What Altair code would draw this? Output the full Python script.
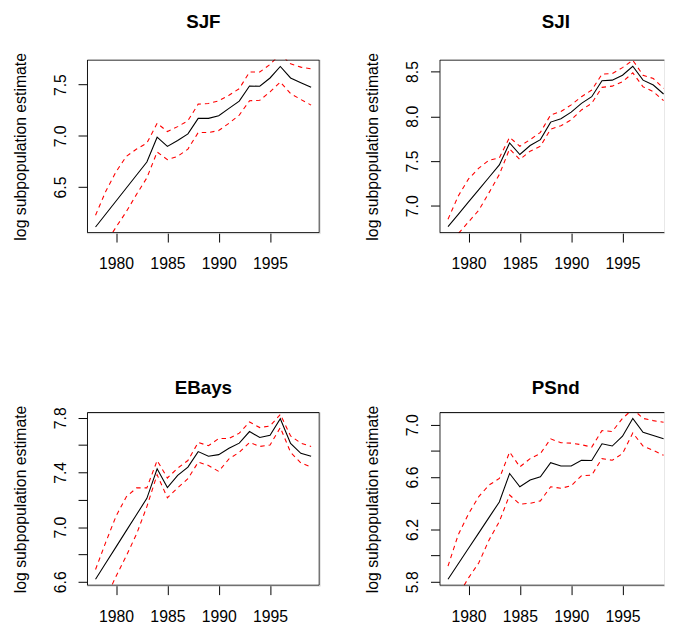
import altair as alt
import pandas as pd

years = [1978, 1979, 1980, 1981, 1982, 1983, 1984, 1985, 1986, 1987, 1988,
         1989, 1990, 1991, 1992, 1993, 1994, 1995, 1996, 1997, 1998, 1999]

panel_names = ["SJF", "SJI", "EBays", "PSnd"]

sjf_est = [6.110, 6.237, 6.364, 6.491, 6.618, 6.745, 6.987, 6.897, 6.955, 7.019, 7.171,
           7.171, 7.197, 7.268, 7.339, 7.487, 7.484, 7.565, 7.677, 7.565, 7.519, 7.474]
sjf_hi = [6.225, 6.460, 6.650, 6.800, 6.871, 6.929, 7.123, 7.042, 7.090, 7.148, 7.310,
          7.316, 7.342, 7.397, 7.461, 7.623, 7.623, 7.697, 7.800, 7.703, 7.671, 7.655]
sjf_lo = [5.780, 5.950, 6.110, 6.260, 6.430, 6.590, 6.842, 6.768, 6.800, 6.871, 7.032,
          7.032, 7.052, 7.123, 7.203, 7.342, 7.348, 7.429, 7.526, 7.413, 7.355, 7.300]

sji_est = [6.767, 6.905, 7.043, 7.181, 7.319, 7.457, 7.702, 7.573, 7.673, 7.739, 7.935,
           7.972, 8.046, 8.145, 8.219, 8.397, 8.404, 8.459, 8.559, 8.404, 8.349, 8.249]
sji_hi = [6.850, 7.110, 7.300, 7.420, 7.510, 7.535, 7.765, 7.665, 7.739, 7.820, 8.016,
          8.053, 8.127, 8.219, 8.293, 8.470, 8.478, 8.544, 8.626, 8.459, 8.422, 8.312]
sji_lo = [6.550, 6.690, 6.820, 6.950, 7.147, 7.350, 7.636, 7.517, 7.610, 7.665, 7.857,
          7.894, 7.961, 8.071, 8.145, 8.323, 8.337, 8.385, 8.485, 8.330, 8.275, 8.175]

ebays_est = [6.619, 6.737, 6.855, 6.974, 7.092, 7.210, 7.427, 7.289, 7.378, 7.439, 7.552,
             7.518, 7.530, 7.576, 7.614, 7.699, 7.655, 7.672, 7.793, 7.612, 7.540, 7.518]
ebays_hi = [6.690, 6.890, 7.080, 7.222, 7.287, 7.287, 7.487, 7.359, 7.431, 7.487, 7.619,
            7.595, 7.648, 7.648, 7.687, 7.769, 7.728, 7.740, 7.824, 7.667, 7.614, 7.590]
ebays_lo = [6.300, 6.480, 6.640, 6.790, 6.950, 7.150, 7.383, 7.214, 7.287, 7.354, 7.475,
            7.451, 7.407, 7.499, 7.547, 7.619, 7.590, 7.600, 7.728, 7.547, 7.470, 7.439]

psnd_est = [5.820, 5.938, 6.056, 6.174, 6.292, 6.410, 6.627, 6.526, 6.577, 6.602, 6.710,
            6.685, 6.685, 6.728, 6.726, 6.854, 6.837, 6.912, 7.048, 6.942, 6.917, 6.892]
psnd_hi = [5.920, 6.160, 6.320, 6.451, 6.539, 6.589, 6.791, 6.678, 6.741, 6.779, 6.892,
           6.862, 6.859, 6.847, 6.829, 6.955, 6.948, 7.048, 7.119, 7.048, 7.031, 7.018]
psnd_lo = [5.550, 5.700, 5.830, 5.945, 6.120, 6.260, 6.463, 6.393, 6.400, 6.418, 6.526,
           6.514, 6.534, 6.610, 6.615, 6.741, 6.728, 6.779, 6.937, 6.837, 6.804, 6.766]

y_domains = [[6.05, 7.745], [6.694, 8.634], [6.571, 7.841], [5.770, 7.096]]
y_ticks = [[6.5, 7.0, 7.5], [7.0, 7.5, 8.0, 8.5],
           [6.6, 6.8, 7.0, 7.2, 7.4, 7.6, 7.8], [5.8, 6.0, 6.2, 6.4, 6.6, 6.8, 7.0]]
y_labels = [["6.5", "7.0", "7.5"], ["7.0", "7.5", "8.0", "8.5"],
            ["6.6", "7.0", "7.4", "7.8"], ["5.8", "6.2", "6.6", "7.0"]]
x_ticks = [1980, 1985, 1990, 1995]
y_title = "log subpopulation estimate"

FONT = "Liberation Sans"
W_FULL, W_RIGHT, H = 236, 228, 176
PX_PER_YEAR = 236 / 22.68
X0 = 1977.16
TITLE_Y = [-31.8, -31.8, -18.5, -18.5]


def panel(name, est, hi, lo, ydom, yt, yl, width, title_y):
    n = len(years)
    df = pd.DataFrame({
        "year": years * 3,
        "value": est + hi + lo,
        "series": ["est"] * n + ["upper"] * n + ["lower"] * n,
    })
    xdom = [X0, X0 + width / PX_PER_YEAR]
    label_list = ",".join("'" + s + "'" for s in yl)
    label_expr = ("indexof([" + label_list + "], format(datum.value, '.1f')) >= 0 ? "
                  "format(datum.value, '.1f') : ''")
    x = alt.X("year:Q",
              scale=alt.Scale(domain=xdom, nice=False, zero=False),
              axis=alt.Axis(values=x_ticks, format="d", title=None, grid=False,
                            domain=False, ticks=True, tickSize=9, tickWidth=1,
                            tickColor="black",
                            labelColor="black", labelFont=FONT, labelFontSize=16,
                            labelBaseline="top", labelPadding=14,
                            labelFlush=False, labelOverlap=False))
    y = alt.Y("value:Q",
              scale=alt.Scale(domain=ydom, nice=False, zero=False),
              axis=alt.Axis(values=yt, labelExpr=label_expr, title=y_title,
                            grid=False, domain=False, ticks=True, tickSize=9,
                            tickWidth=1, tickColor="black",
                            labelColor="black", labelFont=FONT, labelFontSize=16,
                            labelAngle=270, labelAlign="center",
                            labelBaseline="alphabetic", labelPadding=13,
                            labelFlush=False, labelOverlap=False,
                            minExtent=40, maxExtent=40,
                            titleFont=FONT, titleFontSize=16, titleFontWeight="normal",
                            titleColor="black", titlePadding=19.5))
    base = alt.Chart(df)
    est_line = base.transform_filter("datum.series == 'est'").mark_line(
        color="black", strokeWidth=1.1, clip=True).encode(x=x, y=y)
    bands = base.transform_filter("datum.series != 'est'").mark_line(
        color="red", strokeWidth=1.1, strokeDash=[4.5, 4], clip=True).encode(
        x=x, y=y, detail="series:N")
    one = base.transform_aggregate(n="count()")
    box = one.mark_rect(
        fill="transparent", stroke="black", strokeWidth=1, clip=True).encode(
        x=alt.value(0.5), x2=alt.value(W_FULL - 0.5),
        y=alt.value(0.5), y2=alt.value(H - 0.5))
    title = one.mark_text(
        font=FONT, fontSize=19, fontWeight="bold", color="black",
        align="center", baseline="alphabetic").encode(
        x=alt.value(W_FULL / 2), y=alt.value(title_y), text=alt.value(name))
    return alt.layer(bands, est_line, box, title).properties(width=width, height=H)


series = [(sjf_est, sjf_hi, sjf_lo), (sji_est, sji_hi, sji_lo),
          (ebays_est, ebays_hi, ebays_lo), (psnd_est, psnd_hi, psnd_lo)]
charts = []
for i, name in enumerate(panel_names):
    e, h, l = series[i]
    right = i % 2 == 1
    charts.append(panel(name, e, h, l, y_domains[i], y_ticks[i], y_labels[i],
                        W_RIGHT if right else W_FULL, TITLE_Y[i]))

chart = alt.concat(*charts, columns=2, bounds="flush",
                   spacing=alt.RowColnumber(row=181.4, column=121.3)).properties(
    padding={"left": 4, "top": 0, "right": 0, "bottom": 0}
).configure_view(strokeWidth=0).configure(background="white")

chart.save("out.html", embed_options={"renderer": "svg", "actions": False})
